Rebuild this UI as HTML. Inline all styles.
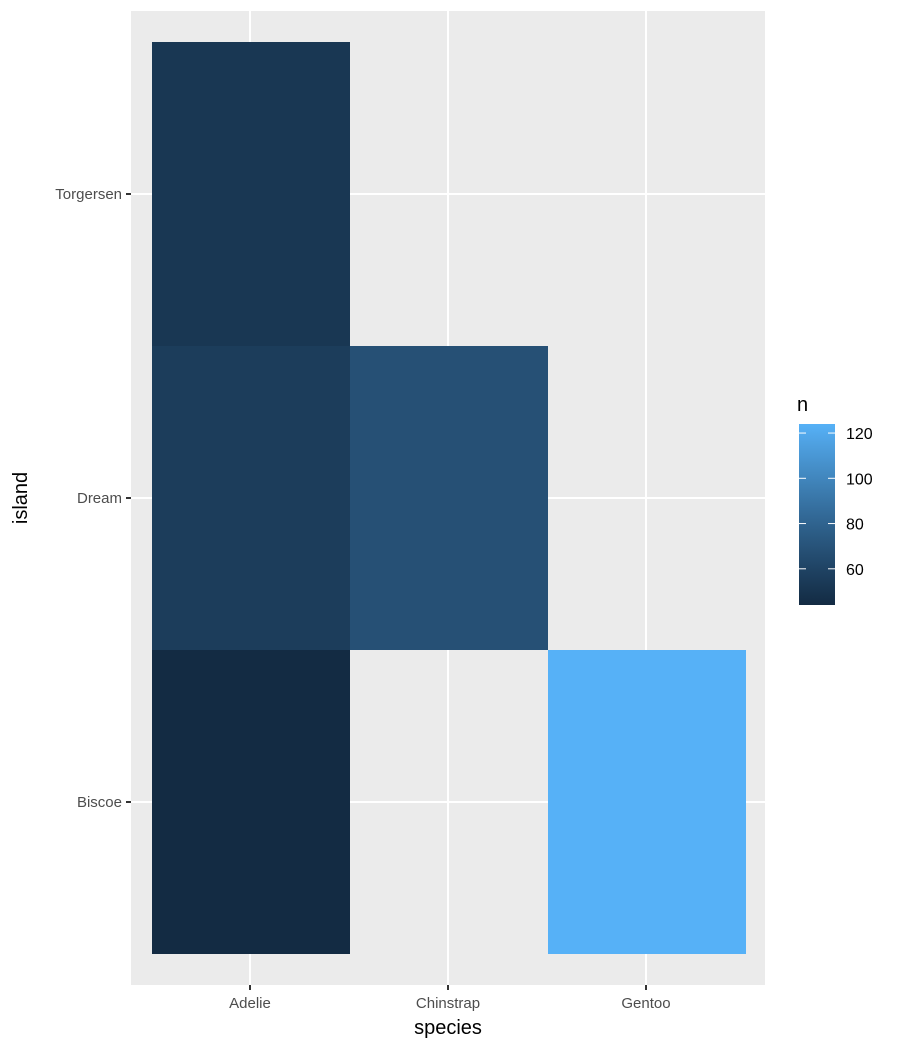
<!DOCTYPE html>
<html><head><meta charset="utf-8"><style>
body{margin:0;background:#fff;font-family:"Liberation Sans",sans-serif;}
svg text{font-family:"Liberation Sans",sans-serif;}
</style></head><body>
<svg id="chart" width="900" height="1050" xmlns="http://www.w3.org/2000/svg">
<defs><linearGradient id="grad" x1="0" y1="1" x2="0" y2="0"></linearGradient></defs>
<rect x="131" y="11" width="634" height="974" fill="#EBEBEB"/>
<g id="grid"></g><g id="tiles"></g><g id="axes"></g><g id="legend"></g>
</svg>
<script>
const species=["Adelie","Chinstrap","Gentoo"];
const islands=["Biscoe","Dream","Torgersen"];
const cellSpecies=["Adelie","Adelie","Adelie","Chinstrap","Gentoo"];
const cellIsland=["Biscoe","Dream","Torgersen","Dream","Biscoe"];
const cellN=[44,56,52,68,124];
const legendTicks=[60,80,100,120];
const NS="http://www.w3.org/2000/svg";
function mk(tag,attrs,parent){const e=document.createElementNS(NS,tag);for(const k in attrs)e.setAttribute(k,attrs[k]);parent.appendChild(e);return e;}
const xStep=198,x0=250,yStep=304,yBottom=802;
const xScale=s=>x0+species.indexOf(s)*xStep;
const yScale=i=>yBottom-islands.indexOf(i)*yStep;
const nMin=Math.min(...cellN),nMax=Math.max(...cellN);
// Lab interpolation
function toLin(c){c/=255;return c<=0.04045?c/12.92:Math.pow((c+0.055)/1.055,2.4);}
function fromLin(c){c=c<=0.0031308?12.92*c:1.055*Math.pow(c,1/2.4)-0.055;return Math.round(Math.max(0,Math.min(1,c))*255);}
function rgb2lab(r,g,b){r=toLin(r);g=toLin(g);b=toLin(b);
let X=(0.4124*r+0.3576*g+0.1805*b)/0.95047,Y=(0.2126*r+0.7152*g+0.0722*b),Z=(0.0193*r+0.1192*g+0.9505*b)/1.08883;
const f=t=>t>0.008856?Math.cbrt(t):7.787*t+16/116;X=f(X);Y=f(Y);Z=f(Z);return[116*Y-16,500*(X-Y),200*(Y-Z)];}
function lab2rgb(L,a,bb){let Y=(L+16)/116,X=a/500+Y,Z=Y-bb/200;const fi=t=>t*t*t>0.008856?t*t*t:(t-16/116)/7.787;
X=fi(X)*0.95047;Y=fi(Y);Z=fi(Z)*1.08883;
const r=3.2406*X-1.5372*Y-0.4986*Z,g=-0.9689*X+1.8758*Y+0.0415*Z,b=0.0557*X-0.2040*Y+1.0570*Z;return[fromLin(r),fromLin(g),fromLin(b)];}
const lo=rgb2lab(0x13,0x2B,0x43),hi=rgb2lab(0x56,0xB1,0xF7);
function color(n){const t=(n-nMin)/(nMax-nMin);const c=lab2rgb(lo[0]+t*(hi[0]-lo[0]),lo[1]+t*(hi[1]-lo[1]),lo[2]+t*(hi[2]-lo[2]));return`rgb(${c[0]},${c[1]},${c[2]})`;}
const grid=document.getElementById('grid');
species.forEach(s=>{const l=mk('line',{x1:xScale(s),x2:xScale(s),y1:11,y2:985,stroke:'#fff','stroke-width':2},grid);

});
islands.forEach(i=>{const l=mk('line',{x1:131,x2:765,y1:yScale(i),y2:yScale(i),stroke:'#fff','stroke-width':2},grid);

});
const tiles=document.getElementById('tiles');
cellN.forEach((n,k)=>{const r=mk('rect',{x:xScale(cellSpecies[k])-xStep/2+1,y:yScale(cellIsland[k])-yStep/2,width:xStep,height:yStep,fill:color(n)},tiles);

});
const ax=document.getElementById('axes');
species.forEach(s=>{const t=mk('line',{x1:xScale(s),x2:xScale(s),y1:985,y2:990,stroke:'#333','stroke-width':2},ax);


const tx=mk('text',{x:xScale(s),y:1008,'text-anchor':'middle','font-size':15,fill:'#4D4D4D'},ax);tx.textContent=s;

});
islands.forEach(i=>{const t=mk('line',{x1:126,x2:131,y1:yScale(i),y2:yScale(i),stroke:'#333','stroke-width':2},ax);


const tx=mk('text',{x:122,y:yScale(i)+5,'text-anchor':'end','font-size':15,fill:'#4D4D4D'},ax);tx.textContent=i;

});
const xt=mk('text',{x:448,y:1034,'text-anchor':'middle','font-size':20,fill:'#000'},ax);xt.textContent='species';


const yt=mk('text',{x:0,y:0,transform:'translate(27,498) rotate(-90)','text-anchor':'middle','font-size':20,fill:'#000'},ax);yt.textContent='island';


// legend
const grad=document.getElementById('grad');
for(let k=0;k<=10;k++){const n=nMin+(nMax-nMin)*k/10;mk('stop',{offset:(k*10)+'%','stop-color':color(n)},grad);}
const lg=document.getElementById('legend');
const barTop=424,barBot=605,barX=799,barW=36;
const ly=n=>barBot-(n-nMin)/(nMax-nMin)*(barBot-barTop);
const lt=mk('text',{x:797,y:411,'font-size':20,fill:'#000'},lg);lt.textContent='n';


const bar=mk('rect',{x:barX,y:barTop,width:barW,height:barBot-barTop,fill:'url(#grad)'},lg);


legendTicks.forEach(v=>{const y=ly(v);
const a=mk('line',{x1:barX,x2:barX+7,y1:y,y2:y,stroke:'#fff','stroke-width':1},lg);


const b=mk('line',{x1:barX+barW-7,x2:barX+barW,y1:y,y2:y,stroke:'#fff','stroke-width':1},lg);


const t=mk('text',{x:846,y:y+6,'font-size':16,fill:'#000'},lg);t.textContent=v;

});
</script>
</body></html>
